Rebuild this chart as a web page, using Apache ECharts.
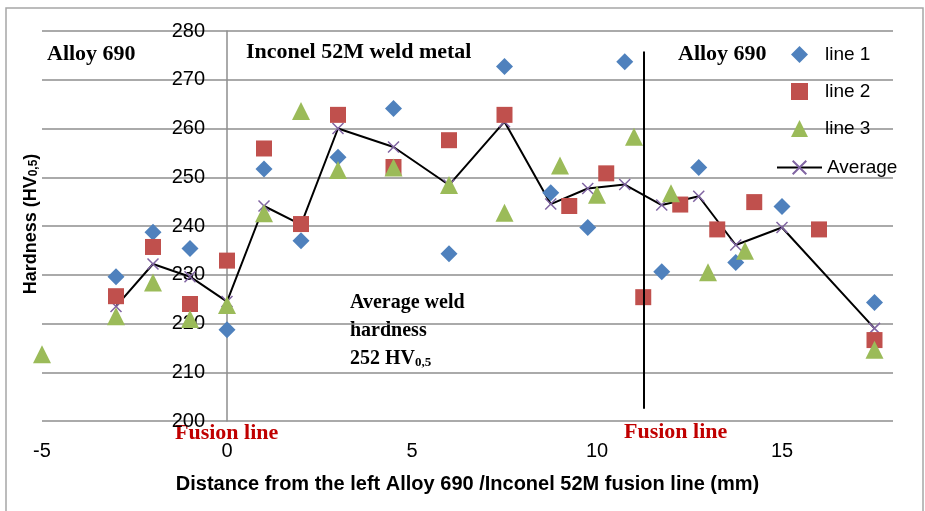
<!DOCTYPE html>
<html>
<head>
<meta charset="utf-8">
<script src="https://cdn.jsdelivr.net/npm/echarts@6/dist/echarts.min.js"></script>
<style>
  html, body { margin: 0; padding: 0; background: #fff; }
  #chart { width: 925px; height: 511px; }
</style>
</head>
<body>
<div id="chart"></div>
<script>
// Hardness traverse across the Alloy 690 / Inconel 52M weld (HV0.5)
const avgX   = [-3, -2, -1, 0, 1, 2, 3, 4.5, 6, 7.5, 8.75, 9.75, 10.75, 11.75, 12.75, 13.75, 15, 17.5];
const avgY   = [223.5, 232.2, 229.6, 224.5, 244.1, 240.3, 260.0, 256.2, 248.4, 261.4, 244.5, 247.7, 248.5, 244.3, 246.1, 236.1, 239.7, 219.0];

const line1X = [-3, -2, -1, 0, 1, 2, 3, 4.5, 6, 7.5, 8.75, 9.75, 10.75, 11.75, 12.75, 13.75, 15, 17.5];
const line1Y = [229.6, 238.7, 235.4, 218.7, 251.7, 237.0, 254.1, 264.1, 234.3, 272.7, 246.8, 239.7, 273.7, 230.6, 252.0, 232.5, 244.0, 224.3];

const line2X = [-3, -2, -1, 0, 1, 2, 3, 4.5, 6, 7.5, 9.25, 10.25, 11.25, 12.25, 13.25, 14.25, 16, 17.5];
const line2Y = [225.6, 235.7, 224.0, 232.9, 255.9, 240.4, 262.8, 252.1, 257.6, 262.8, 244.1, 250.8, 225.4, 244.4, 239.3, 244.9, 239.3, 216.6];

const line3X = [-5, -3, -2, -1, 0, 1, 2, 3, 4.5, 6, 7.5, 9, 10, 11, 12, 13, 14, 17.5];
const line3Y = [213.7, 221.5, 228.4, 220.9, 223.8, 242.6, 263.6, 251.5, 252.0, 248.4, 242.7, 252.4, 246.4, 258.3, 246.7, 230.5, 234.9, 214.6];

// x-axis range and tick step
const xMin = -5, xMax = 18, xStep = 5;
// y-axis range and tick step
const yMin = 200, yMax = 280, yStep = 10;

// right-hand fusion line (distance, hardness range of the drawn segment)
const fusionX = 11.25;
const fusionRange = [202.5, 275.8];

const zip = (xs, ys) => xs.map((x, i) => [x, ys[i]]);

const W = 925, H = 511;
const GRID = { left: 42, right: 32, top: 31, bottom: 90 };
const plotWidth = W - GRID.left - GRID.right;
// the value axis crosses the distance axis at 0
const yAxisShift = -((0 - xMin) / (xMax - xMin)) * plotWidth;

const GRID_GREY = '#8E8E8E';
const serifBold = { fontFamily: 'Liberation Serif', fontWeight: 'bold', fill: '#000' };
const legendText = { fontFamily: 'Liberation Sans', fontSize: 19, color: '#000' };

const chart = echarts.init(document.getElementById('chart'), null, { renderer: 'canvas' });

chart.setOption({
  animation: false,
  backgroundColor: '#fff',
  grid: Object.assign({ containLabel: false, outerBoundsMode: 'none' }, GRID),
  legend: [
    {
      orient: 'vertical',
      left: 786,
      top: 40,
      itemWidth: 17,
      itemHeight: 17,
      itemGap: 18,
      data: ['line 1', 'line 2', 'line 3'],
      textStyle: Object.assign({ padding: [0, 0, 0, 12] }, legendText)
    },
    {
      orient: 'vertical',
      left: 771,
      top: 153,
      itemWidth: 45,
      itemHeight: 17,
      data: ['Average'],
      textStyle: legendText
    }
  ],
  xAxis: {
    type: 'value',
    min: xMin,
    max: xMax,
    interval: xStep,
    name: 'Distance from the left Alloy 690 /Inconel 52M fusion line (mm)',
    nameLocation: 'middle',
    nameGap: 53,
    nameTextStyle: { fontFamily: 'Liberation Sans', fontWeight: 'bold', fontSize: 20, color: '#000' },
    axisLine: { show: false },
    axisTick: { show: false },
    splitLine: { show: false },
    axisLabel: {
      margin: 20, fontFamily: 'Liberation Sans', fontSize: 20, color: '#000',
      showMaxLabel: false
    }
  },
  yAxis: {
    type: 'value',
    min: yMin,
    max: yMax,
    interval: yStep,
    offset: yAxisShift,
    axisLine: { show: true, onZero: false, lineStyle: { color: GRID_GREY, width: 1.5 } },
    axisTick: { show: false },
    splitLine: { show: true, lineStyle: { color: GRID_GREY, width: 1.5 } },
    axisLabel: { margin: 22, fontFamily: 'Liberation Sans', fontSize: 20, color: '#000' }
  },
  series: [
    {
      name: 'Average',
      type: 'line',
      data: zip(avgX, avgY),
      symbol: 'path://M0,0L10,10M10,0L0,10',
      symbolSize: 11,
      lineStyle: { color: '#000', width: 2 },
      itemStyle: { color: 'rgba(0,0,0,0)', borderColor: '#8064A2', borderWidth: 1.5 },
      z: 2,
      markLine: {
        silent: true,
        symbol: ['none', 'none'],
        label: { show: false },
        lineStyle: { color: '#000', width: 2, type: 'solid' },
        data: [[{ coord: [fusionX, fusionRange[0]] }, { coord: [fusionX, fusionRange[1]] }]]
      }
    },
    {
      name: 'line 1', type: 'scatter', symbol: 'diamond', symbolSize: 17,
      itemStyle: { color: '#4F81BD', opacity: 1 }, data: zip(line1X, line1Y), z: 3
    },
    {
      name: 'line 2', type: 'scatter', symbol: 'rect', symbolSize: 16,
      itemStyle: { color: '#C0504D', opacity: 1 }, data: zip(line2X, line2Y), z: 3
    },
    {
      name: 'line 3', type: 'scatter', symbol: 'triangle', symbolSize: 18,
      itemStyle: { color: '#9BBB59', opacity: 1 }, data: zip(line3X, line3Y), z: 3
    }
  ],
  graphic: [
    // outer chart frame
    { type: 'rect', shape: { x: 6, y: 8, width: 917, height: 520 },
      style: { fill: 'none', stroke: '#A6A6A6', lineWidth: 1.5 }, silent: true, z: -1 },
    // region labels
    { type: 'text', x: 47, y: 54, style: Object.assign({ text: 'Alloy 690', fontSize: 22, verticalAlign: 'middle' }, serifBold) },
    { type: 'text', x: 246, y: 52, style: Object.assign({ text: 'Inconel 52M weld metal', fontSize: 22, verticalAlign: 'middle' }, serifBold) },
    { type: 'text', x: 678, y: 54, style: Object.assign({ text: 'Alloy 690', fontSize: 22, verticalAlign: 'middle' }, serifBold) },
    // fusion line labels
    { type: 'text', x: 175, y: 433, style: { text: 'Fusion line', fontFamily: 'Liberation Serif', fontWeight: 'bold', fontSize: 22, fill: '#C00000', verticalAlign: 'middle' } },
    { type: 'text', x: 624, y: 432, style: { text: 'Fusion line', fontFamily: 'Liberation Serif', fontWeight: 'bold', fontSize: 22, fill: '#C00000', verticalAlign: 'middle' } },
    // average weld hardness note
    { type: 'text', x: 350, y: 303, style: Object.assign({ text: 'Average weld', fontSize: 20, verticalAlign: 'middle' }, serifBold) },
    { type: 'text', x: 350, y: 331, style: Object.assign({ text: 'hardness', fontSize: 20, verticalAlign: 'middle' }, serifBold) },
    { type: 'text', x: 350, y: 357, style: {
        text: '{m|252 HV}{s|0,5}', verticalAlign: 'middle',
        rich: {
          m: { fontFamily: 'Liberation Serif', fontWeight: 'bold', fontSize: 20, color: '#000', lineHeight: 24, verticalAlign: 'bottom' },
          s: { fontFamily: 'Liberation Serif', fontWeight: 'bold', fontSize: 13, color: '#000', lineHeight: 24, verticalAlign: 'bottom', padding: [8, 0, 0, 0] }
        }
      } },
    // y axis title
    { type: 'text', x: 28, y: 224, rotation: Math.PI / 2, style: {
        text: '{m|Hardness (HV}{s|0,5}{m|)}', align: 'center', verticalAlign: 'middle',
        rich: {
          m: { fontFamily: 'Liberation Sans', fontWeight: 'bold', fontSize: 18, color: '#000', lineHeight: 24, verticalAlign: 'bottom' },
          s: { fontFamily: 'Liberation Sans', fontWeight: 'bold', fontSize: 12, color: '#000', lineHeight: 24, verticalAlign: 'bottom', padding: [8, 0, 0, 0] }
        }
      } }
  ]
});
</script>
</body>
</html>
